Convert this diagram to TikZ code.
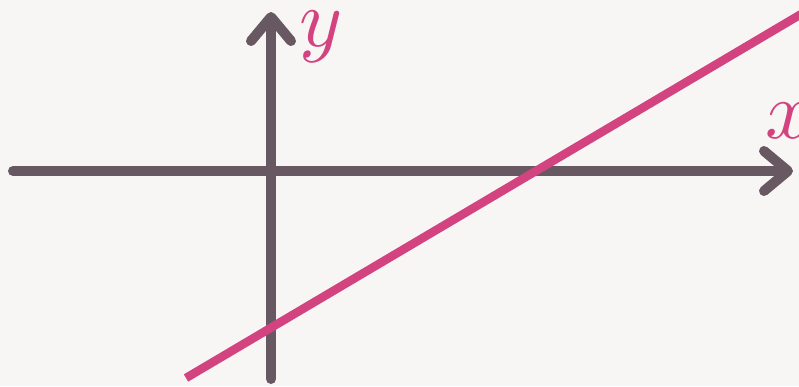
\documentclass[tikz,border=0pt]{standalone}
\usepackage{graphicx}
\usetikzlibrary{arrows.meta}
\definecolor{paper}{HTML}{F7F6F4}
\definecolor{axisgray}{HTML}{685862}
\definecolor{linepink}{HTML}{D2437F}
\tikzset{
  axisline/.style={draw=axisgray, line width=10pt, line cap=round,
    -{Straight Barb[length=24pt, width=40pt, round]}},
  graphline/.style={draw=linepink, line width=8.5pt},
  axislabel/.style={text=linepink, inner sep=0pt, anchor=base}
}
\newcommand{\biglabel}[1]{\scalebox{8.2}{$#1$}}
\begin{document}
\begin{tikzpicture}[x=1pt, y=-1pt]
  \useasboundingbox (0,0) rectangle (799,386);
  \clip (0,0) rectangle (799,386);
  \fill[paper] (0,0) rectangle (799,386);
  \coordinate (xstart) at (13,171);
  \coordinate (xend) at (793,171);
  \coordinate (ystart) at (271,379);
  \coordinate (yend) at (271,12);
  \coordinate (lstart) at (186,378);
  \coordinate (lend) at (830,-3);
  \draw[axisline] (xstart) -- (xend);
  \draw[axisline] (ystart) -- (yend);
  \draw[graphline] (lstart) -- (lend);
  \node[axislabel] (ylab) at (321,46) {\biglabel{y}};
  \node[axislabel] (xlab) at (789,138) {\biglabel{x}};
\end{tikzpicture}
\end{document}
